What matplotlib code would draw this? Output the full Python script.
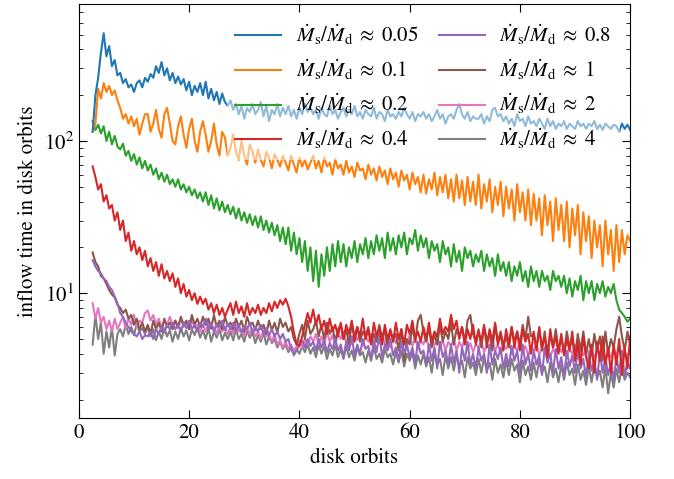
import numpy as np
import matplotlib
matplotlib.use("Agg")
import matplotlib.pyplot as plt

plt.rcParams["font.family"] = ["STIXGeneral", "DejaVu Serif"]
plt.rcParams["mathtext.fontset"] = "stix"

# time axis in disk orbits (sampled every half orbit)
orbits = np.arange(2.5, 100.01, 0.5)

ratios = ["0.05", "0.1", "0.2", "0.4", "0.8", "1", "2", "4"]
colors = ["#1f77b4", "#ff7f0e", "#2ca02c", "#d62728",
          "#9467bd", "#8c564b", "#e377c2", "#7f7f7f"]

t_005 = [
    115, 200, 260, 380, 510, 360, 420, 310, 340, 270,
    280, 240, 255, 225, 235, 210, 240, 250, 225, 260,
    245, 275, 260, 310, 280, 330, 270, 300, 250, 280,
    240, 265, 235, 255, 215, 245, 200, 230, 210, 240,
    200, 245, 190, 220, 185, 210, 175, 205, 180, 170,
    185, 160, 175, 150, 170, 140, 165, 155, 175, 150,
    160, 180, 145, 170, 135, 160, 150, 175, 145, 165,
    150, 170, 145, 160, 140, 165, 150, 175, 155, 165,
    150, 160, 140, 165, 150, 145, 170, 150, 160, 140,
    155, 165, 145, 160, 150, 170, 145, 155, 140, 160,
    150, 145, 165, 140, 155, 150, 135, 160, 145, 150,
    140, 155, 145, 165, 150, 140, 155, 135, 150, 145,
    155, 140, 150, 135, 145, 160, 140, 150, 130, 145,
    150, 140, 160, 175, 150, 140, 155, 135, 145, 140,
    140, 150, 130, 145, 135, 160, 165, 145, 150, 135,
    145, 130, 140, 125, 150, 135, 140, 125, 145, 130,
    135, 125, 140, 130, 120, 140, 125, 135, 120, 130,
    125, 135, 120, 130, 125, 120, 135, 125, 130, 120,
    130, 125, 135, 120, 128, 118, 130, 125, 120, 128,
    125, 115, 130, 120, 128, 118,
]

t_01 = [
    115, 130, 220, 190, 240, 210, 230, 200, 215, 185,
    165, 140, 150, 130, 145, 125, 140, 110, 130, 150,
    150, 115, 130, 160, 120, 105, 150, 165, 130, 100,
    95, 125, 145, 110, 90, 120, 140, 100, 85, 115,
    135, 110, 85, 100, 130, 95, 80, 115, 105, 80,
    90, 110, 85, 75, 100, 80, 70, 95, 85, 72,
    88, 75, 68, 85, 78, 66, 82, 75, 68, 80,
    72, 64, 80, 70, 62, 78, 68, 75, 65, 72,
    80, 66, 74, 62, 78, 68, 72, 60, 76, 66,
    70, 60, 74, 62, 68, 58, 72, 64, 66, 56,
    70, 60, 66, 55, 68, 58, 64, 52, 66, 56,
    62, 50, 64, 55, 60, 48, 62, 52, 58, 46,
    60, 45, 56, 48, 62, 44, 58, 46, 60, 42,
    56, 40, 60, 42, 55, 38, 58, 40, 54, 38,
    60, 36, 52, 40, 56, 34, 50, 38, 54, 32,
    50, 36, 48, 30, 52, 34, 46, 30, 48, 28,
    45, 30, 42, 24, 44, 28, 40, 22, 42, 26,
    38, 22, 40, 20, 36, 24, 38, 18, 34, 22,
    32, 17, 30, 20, 28, 15, 30, 18, 26, 14,
    28, 16, 26, 18, 24, 22,
]

t_02 = [
    135, 118, 128, 112, 125, 100, 115, 95, 108, 92,
    88, 96, 80, 86, 74, 82, 70, 78, 66, 74,
    64, 70, 60, 66, 56, 62, 54, 60, 52, 56,
    50, 56, 48, 52, 46, 50, 44, 48, 42, 46,
    40, 46, 38, 44, 36, 42, 35, 40, 34, 38,
    33, 37, 31, 36, 30, 34, 29, 33, 28, 32,
    27, 32, 26, 30, 25, 29, 24, 28, 22, 27,
    21, 27, 19, 25, 18, 23, 16, 22, 14, 20,
    12, 19, 11, 18, 13, 20, 14, 21, 15, 22,
    16, 21, 15, 20, 17, 22, 16, 21, 18, 23,
    17, 22, 18, 24, 19, 23, 17, 25, 19, 23,
    18, 24, 20, 25, 18, 23, 21, 26, 19, 24,
    20, 23, 17, 22, 19, 21, 16, 22, 18, 20,
    15, 21, 16, 19, 14, 20, 17, 19, 15, 18,
    16, 19, 14, 18, 15, 17, 13, 18, 14, 16,
    13, 16, 12, 15, 13, 16, 12, 14, 11, 15,
    12, 14, 11, 14, 12, 13, 10.5, 14, 12, 13,
    11, 13, 10, 12.5, 9.5, 12, 10.5, 13, 9, 12,
    10, 12, 9, 11.5, 10, 12, 9.5, 11, 10, 11.5,
    9, 7.8, 7.4, 7.0, 6.5, 6.8,
]

t_04 = [
    68, 58, 48, 52, 40, 44, 36, 38, 30, 34,
    26, 30, 22, 25, 19, 22, 18, 20, 16.5, 19,
    15, 17, 14, 16, 13, 15.5, 12.5, 14, 12, 13.5,
    11, 12.5, 10, 11.5, 9.5, 10.5, 9, 10, 8.5, 9.5,
    8.5, 9.2, 7.8, 8.6, 7.4, 8.4, 7.2, 8.0, 7.0, 7.8,
    8.6, 7.2, 8.8, 7.4, 8.2, 7.0, 8.6, 7.2, 8.0, 7.4,
    8.4, 7.2, 8.0, 7.4, 8.6, 7.6, 8.8, 8.0, 9.0, 8.4,
    9.2, 8.2, 7.0, 5.5, 4.6, 4.5, 5.2, 6.2, 7.4, 6.4,
    7.8, 6.2, 7.2, 5.8, 6.6, 5.4, 6.8, 5.6, 6.2, 5.2,
    6.4, 5.0, 6.2, 5.4, 6.6, 4.8, 6.0, 5.2, 6.8, 5.0,
    5.8, 4.6, 6.4, 5.2, 6.0, 4.6, 6.2, 5.0, 5.8, 4.8,
    6.4, 5.0, 5.8, 4.6, 6.2, 5.4, 6.6, 5.0, 5.6, 4.8,
    6.0, 5.0, 6.4, 4.8, 5.6, 5.2, 6.8, 5.4, 6.0, 5.6,
    7.2, 5.8, 6.6, 5.0, 6.0, 4.6, 5.8, 5.0, 6.2, 4.6,
    5.6, 4.8, 6.2, 4.4, 5.8, 4.8, 6.4, 4.6, 5.4, 4.2,
    5.8, 4.6, 6.0, 4.4, 5.6, 4.2, 5.8, 4.8, 5.4, 4.0,
    5.6, 4.2, 6.0, 4.4, 5.2, 3.8, 5.8, 4.4, 5.2, 4.0,
    5.4, 3.9, 5.0, 4.2, 5.6, 3.6, 4.8, 3.4, 5.2, 3.8,
    3.2, 4.6, 3.0, 4.8, 3.6, 5.2, 3.4, 4.4, 3.0, 4.6,
    3.4, 5.0, 2.9, 4.4, 3.2, 5.2,
]

t_08 = [
    16.5, 15, 14, 13.5, 12.5, 12, 11, 10.5, 9.5, 8.6,
    7.4, 7.0, 6.4, 6.0, 5.6, 5.4, 5.2, 5.6, 5.0, 5.3,
    5.2, 5.6, 5.0, 5.8, 5.4, 6.0, 5.5, 6.2, 5.8, 6.4,
    5.8, 6.2, 5.6, 6.4, 5.9, 6.6, 5.8, 6.2, 5.6, 6.4,
    6.0, 6.8, 5.8, 6.4, 5.6, 6.2, 6.0, 6.6, 5.7, 6.3,
    5.8, 6.4, 5.6, 6.2, 5.5, 6.0, 5.8, 6.4, 5.4, 6.0,
    5.6, 6.2, 5.4, 5.9, 5.3, 5.8, 5.2, 5.6, 5.0, 5.4,
    4.8, 5.0, 4.3, 4.0, 4.2, 4.6, 4.9, 4.4, 5.0, 4.5,
    4.8, 4.2, 5.0, 4.4, 4.9, 4.1, 4.7, 4.3, 5.0, 4.2,
    4.6, 3.8, 4.8, 4.2, 5.2, 3.9, 4.6, 4.0, 5.0, 4.3,
    4.5, 3.7, 4.9, 4.1, 5.4, 3.8, 4.6, 4.2, 5.0, 3.9,
    4.4, 3.6, 4.8, 4.0, 4.6, 3.8, 4.4, 3.5, 4.8, 4.0,
    4.2, 3.4, 4.6, 3.6, 4.4, 3.2, 4.8, 3.8, 4.2, 3.4,
    4.6, 3.5, 4.2, 3.0, 4.4, 3.6, 4.8, 3.4, 4.0, 3.2,
    4.4, 3.6, 4.0, 3.0, 4.6, 3.4, 4.2, 3.7, 4.4, 3.2,
    4.0, 3.3, 4.5, 3.6, 4.2, 3.0, 4.6, 3.4, 4.0, 3.1,
    4.2, 3.4, 3.9, 2.9, 4.4, 3.5, 4.0, 3.0, 4.3, 3.2,
    3.8, 2.8, 4.2, 3.3, 3.9, 3.0, 4.4, 3.2, 3.7, 2.8,
    4.0, 3.1, 3.6, 2.7, 4.1, 3.0, 3.8, 2.9, 3.5, 2.7,
    3.8, 3.0, 4.2, 2.8, 3.6, 3.2,
]

t_1 = [
    18.5, 16, 15, 13, 12.5, 11.5, 10.5, 9.8, 9.4, 8.4,
    8.0, 7.4, 7.8, 6.8, 7.2, 6.2, 6.8, 5.8, 6.4, 5.6,
    6.2, 5.4, 6.6, 5.8, 6.4, 5.6, 6.8, 6.0, 6.4, 5.8,
    6.6, 6.0, 7.0, 6.2, 6.6, 5.8, 7.2, 6.2, 6.8, 6.0,
    7.0, 6.2, 6.8, 5.9, 7.2, 6.0, 6.6, 5.8, 7.0, 6.1,
    6.4, 5.8, 6.8, 6.0, 6.6, 5.6, 7.0, 6.2, 6.4, 5.7,
    6.6, 5.8, 6.2, 5.4, 6.6, 5.7, 6.4, 5.5, 6.8, 6.0,
    6.4, 5.6, 6.0, 5.0, 4.6, 5.4, 6.2, 5.0, 6.6, 5.4,
    5.8, 6.6, 5.2, 6.2, 5.0, 6.4, 5.4, 6.0, 4.8, 5.8,
    6.2, 5.0, 5.8, 4.6, 6.4, 5.2, 6.0, 4.8, 5.6, 5.2,
    6.0, 4.6, 5.4, 4.8, 6.2, 5.0, 5.8, 4.4, 5.6, 5.0,
    5.4, 4.2, 5.8, 3.6, 5.0, 4.6, 6.0, 4.8, 6.6, 7.2,
    5.6, 4.8, 6.0, 4.4, 5.4, 4.6, 6.2, 4.8, 5.6, 5.0,
    6.4, 4.6, 5.8, 5.2, 6.0, 4.8, 6.6, 7.2, 5.4, 4.8,
    5.8, 4.4, 6.0, 5.0, 5.4, 4.2, 6.2, 4.8, 5.6, 4.6,
    5.2, 4.4, 6.0, 4.8, 5.6, 4.6, 6.2, 5.0, 7.0, 5.2,
    5.4, 4.4, 5.8, 4.2, 5.6, 3.8, 5.4, 4.4, 5.8, 4.2,
    5.2, 4.0, 5.6, 4.4, 5.0, 3.8, 5.4, 4.2, 5.6, 4.0,
    5.0, 3.9, 5.4, 4.2, 5.2, 3.6, 5.6, 4.0, 5.0, 4.4,
    5.8, 7.0, 5.2, 4.2, 5.6, 4.6,
]

t_2 = [
    8.6, 6.8, 8.0, 6.4, 7.0, 5.8, 6.6, 5.6, 6.8, 5.8,
    6.4, 7.0, 5.9, 6.8, 6.2, 7.2, 6.0, 6.6, 6.4, 7.4,
    7.7, 6.6, 7.2, 6.2, 6.8, 6.0, 6.6, 6.2, 7.0, 6.2,
    6.6, 5.9, 6.8, 6.0, 6.4, 5.8, 6.6, 6.0, 6.2, 5.6,
    6.2, 5.6, 6.4, 5.8, 6.0, 5.4, 6.2, 5.6, 6.0, 5.4,
    6.0, 5.4, 6.2, 5.6, 5.8, 5.2, 6.0, 5.4, 5.8, 5.2,
    5.6, 5.0, 5.8, 5.2, 5.4, 4.8, 5.4, 4.6, 4.9, 4.4,
    4.8, 4.3, 4.6, 4.2, 4.5, 4.9, 4.4, 5.0, 4.6, 5.2,
    4.8, 5.4, 4.6, 5.2, 4.5, 5.6, 4.8, 5.3, 4.6, 5.4,
    5.0, 5.6, 4.7, 5.3, 4.6, 5.5, 4.9, 5.4, 4.5, 5.2,
    4.8, 5.4, 4.5, 5.2, 4.7, 5.5, 4.6, 5.3, 4.4, 5.1,
    4.7, 5.2, 4.4, 5.0, 4.6, 5.3, 4.5, 5.1, 4.3, 4.9,
    4.6, 5.2, 4.3, 5.0, 4.5, 5.2, 4.4, 4.9, 4.2, 4.8,
    4.5, 5.0, 4.2, 4.8, 4.4, 5.1, 4.3, 4.7, 4.1, 4.6,
    4.4, 4.9, 4.1, 4.6, 4.3, 5.0, 4.2, 4.6, 4.0, 4.5,
    4.3, 4.8, 4.0, 4.5, 4.2, 4.8, 4.1, 4.5, 3.9, 4.4,
    4.2, 4.7, 3.9, 4.4, 4.1, 4.6, 3.8, 4.3, 4.0, 4.5,
    4.1, 4.5, 3.8, 4.3, 4.0, 4.6, 3.7, 4.2, 3.9, 4.4,
    4.0, 4.4, 3.7, 4.2, 3.9, 4.5, 3.6, 4.1, 3.8, 4.3,
    3.9, 4.4, 3.6, 4.1, 3.8, 4.2,
]

t_4 = [
    4.6, 7.2, 5.0, 6.4, 4.0, 5.6, 4.4, 6.0, 3.9, 5.4,
    5.8, 5.2, 6.2, 5.4, 6.0, 5.3, 6.3, 5.6, 5.9, 5.4,
    6.0, 5.2, 5.8, 4.9, 5.6, 5.0, 5.9, 5.2, 5.7, 4.8,
    5.6, 5.0, 5.9, 5.2, 5.7, 4.9, 5.8, 5.3, 6.0, 5.1,
    5.7, 5.0, 5.9, 4.8, 5.6, 5.1, 5.8, 4.9, 5.5, 5.0,
    5.6, 4.9, 5.8, 5.0, 5.4, 4.8, 5.7, 5.1, 5.5, 4.7,
    5.3, 4.8, 5.5, 4.6, 5.2, 4.7, 5.0, 4.4, 4.8, 4.3,
    4.6, 4.1, 4.4, 3.9, 4.3, 4.0, 4.5, 4.1, 4.6, 4.0,
    4.4, 3.8, 4.6, 4.0, 4.5, 3.7, 4.3, 3.9, 4.6, 3.8,
    4.3, 3.7, 4.5, 3.8, 4.2, 3.6, 4.4, 3.9, 4.1, 3.5,
    4.2, 3.6, 4.4, 3.7, 4.0, 3.5, 4.3, 3.8, 4.0, 3.4,
    4.1, 3.5, 4.2, 3.3, 4.0, 3.6, 4.1, 3.2, 3.9, 3.4,
    4.0, 3.3, 3.8, 3.0, 4.1, 3.4, 3.7, 2.9, 3.9, 3.2,
    3.8, 3.1, 3.9, 3.3, 3.6, 2.8, 3.8, 3.2, 3.5, 2.9,
    3.7, 3.0, 3.8, 3.1, 3.5, 2.7, 3.7, 3.0, 3.4, 2.8,
    3.6, 2.9, 3.7, 3.1, 3.4, 2.6, 3.6, 2.9, 3.3, 2.7,
    3.5, 2.8, 3.6, 3.0, 3.3, 2.6, 3.5, 2.8, 3.2, 2.6,
    3.4, 2.7, 3.5, 2.9, 3.2, 2.5, 3.4, 2.7, 3.1, 2.5,
    3.3, 2.6, 3.4, 2.8, 3.1, 2.4, 3.3, 2.2, 3.0, 2.4,
    3.2, 2.6, 3.3, 2.7, 3.0, 2.8,
]

series = [t_005, t_01, t_02, t_04, t_08, t_1, t_2, t_4]

fig = plt.figure(figsize=(6.74, 4.79), dpi=100)
ax = fig.add_axes([0.117, 0.127, 0.818, 0.865])

handles = [None] * len(series)
# later ratios sit underneath, so draw from the largest ratio down
for i in reversed(range(len(series))):
    label = r"$\dot{M}_\mathrm{s}/\dot{M}_\mathrm{d}\;\approx\;%s$" % ratios[i]
    (line,) = ax.plot(orbits, series[i], color=colors[i], lw=1.5, label=label)
    handles[i] = line

ax.set_yscale("log")
ax.set_xlim(0, 100)
ax.set_ylim(1.51, 796)
ax.set_xticks([0, 20, 40, 60, 80, 100])
ax.tick_params(which="both", direction="in", top=True, right=True, labelsize=15)
ax.tick_params(which="major", length=6)
ax.tick_params(which="minor", length=3)
ax.set_xlabel("disk orbits", fontsize=15)
ax.set_ylabel("inflow time in disk orbits", fontsize=15)

leg = ax.legend(handles=handles, loc="upper right", ncol=2, fontsize=15,
                framealpha=0.5, edgecolor="none", handlelength=2.2,
                handletextpad=0.7, columnspacing=1.0)

fig.savefig("out.png", dpi=100)
